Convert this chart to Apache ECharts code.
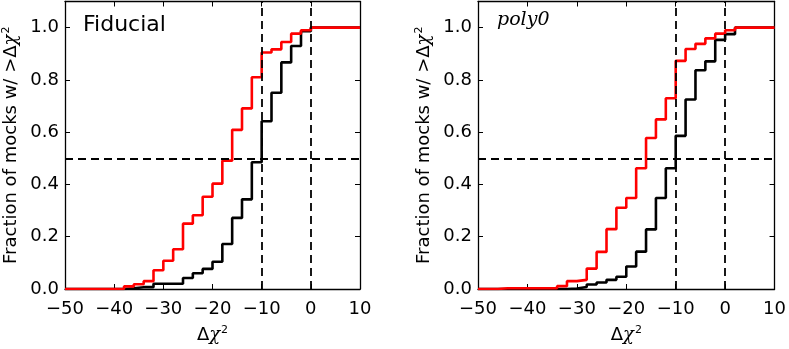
<!DOCTYPE html>
<html>
<head>
<meta charset="utf-8">
<script src="https://cdn.jsdelivr.net/npm/echarts@6/dist/echarts.min.js"></script>
<style>
  html, body { margin: 0; padding: 0; background: #fff; }
  #chart { width: 789px; height: 349px; }
</style>
</head>
<body>
<div id="chart"></div>
<script>
// bin edges of the cumulative step curves (delta chi^2)
const binEdges = [-50, -48, -46, -44, -42, -40, -38, -36, -34, -32, -30, -28, -26, -24,
  -22, -20, -18, -16, -14, -12, -10, -8, -6, -4, -2, 0, 2];

// fraction of mocks, value after each bin edge
const fiducialRed = [0, 0, 0, 0, 0, 0, 0.01, 0.018, 0.03, 0.072, 0.108, 0.152, 0.25, 0.282,
  0.353, 0.403, 0.491, 0.609, 0.691, 0.81, 0.905, 0.917, 0.945, 0.977, 0.99, 1, 1];
const fiducialBlack = [0, 0, 0, 0, 0, 0, 0.003, 0.007, 0.007, 0.02, 0.02, 0.02, 0.042, 0.06,
  0.077, 0.104, 0.172, 0.272, 0.343, 0.485, 0.642, 0.751, 0.867, 0.93, 0.986, 1, 1];
const poly0Red = [0, 0, 0.003, 0.003, 0.003, 0.003, 0.003, 0.003, 0.011, 0.03, 0.035, 0.078, 0.142, 0.229,
  0.311, 0.348, 0.462, 0.578, 0.649, 0.73, 0.873, 0.918, 0.938, 0.959, 0.977, 0.99, 1];
const poly0Black = [0, 0, 0, 0, 0, 0, 0, 0, 0, 0.002, 0.008, 0.017, 0.025, 0.035,
  0.047, 0.086, 0.143, 0.228, 0.348, 0.462, 0.586, 0.725, 0.837, 0.871, 0.953, 0.975, 1];

const panelTitles = ['Fiducial', 'poly0'];
const refX = [-10, 0];
const refY = 0.5;

const chart = echarts.init(document.getElementById('chart'));

const fontFam = 'DejaVu Sans';
const fmtX = (v) => (v < 0 ? '\u2212' + (-v) : '' + v);

const stepData = (vals) => binEdges.map((e, i) => [e, vals[i]]).concat([[10, vals[vals.length - 1]]]);

const grids = [
  { left: 63, top: 1.5, width: 297, height: 289.5 },
  { left: 478, top: 1.5, width: 297, height: 289.5 }
];

const mathRich = {
  m: { fontFamily: fontFam, fontSize: 18, color: '#000' },
  c: { fontFamily: 'DejaVu Serif', fontStyle: 'italic', fontSize: 18, color: '#000' },
  s: { fontFamily: fontFam, fontSize: 11, color: '#000', verticalAlign: 'top', padding: [0, 0, 9, 1] }
};

const xAxes = [];
const yAxes = [];
grids.forEach((g, i) => {
  xAxes.push({
    type: 'value', gridIndex: i, min: -50, max: 10, interval: 10, position: 'bottom',
    name: '{m|Δ}{c|χ}{s|2}', nameLocation: 'middle', nameGap: 36,
    nameTextStyle: { rich: mathRich },
    axisLine: { show: true, onZero: false, lineStyle: { color: '#000', width: 1.3 } },
    axisTick: { show: true, inside: true, length: 5, lineStyle: { color: '#000', width: 1 } },
    axisLabel: { fontFamily: fontFam, fontSize: 18, color: '#000', margin: 11, formatter: fmtX },
    splitLine: { show: false }
  });
  xAxes.push({
    type: 'value', gridIndex: i, min: -50, max: 10, interval: 10, position: 'top',
    axisLine: { show: true, onZero: false, lineStyle: { color: '#000', width: 1.3 } },
    axisTick: { show: true, inside: true, length: 5, lineStyle: { color: '#000', width: 1 } },
    axisLabel: { show: false },
    splitLine: { show: false }
  });
  yAxes.push({
    type: 'value', gridIndex: i, min: 0, max: 1.1, interval: 0.2, position: 'left',
    name: 'Fraction of mocks w/ {m|>Δ}{c|χ}{s|2}', nameLocation: 'middle', nameGap: 44,
    nameTextStyle: { fontFamily: fontFam, fontSize: 18, color: '#000', rich: mathRich },
    axisLine: { show: true, onZero: false, lineStyle: { color: '#000', width: 1.3 } },
    axisTick: { show: true, inside: true, length: 5, lineStyle: { color: '#000', width: 1 } },
    axisLabel: {
      fontFamily: fontFam, fontSize: 18, color: '#000', margin: 6, showMaxLabel: false,
      formatter: (v) => v.toFixed(1)
    },
    splitLine: { show: false }
  });
  yAxes.push({
    type: 'value', gridIndex: i, min: 0, max: 1.1, interval: 0.2, position: 'right',
    axisLine: { show: true, onZero: false, lineStyle: { color: '#000', width: 1.3 } },
    axisTick: { show: true, inside: true, length: 5, lineStyle: { color: '#000', width: 1 } },
    axisLabel: { show: false },
    splitLine: { show: false }
  });
});

const refLines = {
  silent: true,
  symbol: 'none',
  label: { show: false },
  lineStyle: { color: '#000', width: 1.8, type: [8, 5] },
  data: refX.map((x) => ({ xAxis: x })).concat([{ yAxis: refY }])
};

const stepSeries = (vals, idx, color, withRef) => ({
  type: 'line',
  step: 'end',
  xAxisIndex: idx * 2,
  yAxisIndex: idx * 2,
  data: stepData(vals),
  showSymbol: false,
  symbol: 'none',
  animation: false,
  lineStyle: { color: color, width: 2.6 },
  markLine: withRef ? refLines : undefined
});

const option = {
  animation: false,
  grid: grids,
  xAxis: xAxes,
  yAxis: yAxes,
  graphic: [
    {
      type: 'text', left: 83, top: 14,
      style: { text: panelTitles[0], fontFamily: fontFam, fontSize: 22, fill: '#000' }
    },
    {
      type: 'text', left: 497, top: 11,
      style: { text: panelTitles[1], fontFamily: 'DejaVu Serif', fontStyle: 'italic', fontSize: 19, fill: '#000' }
    }
  ],
  series: [
    stepSeries(fiducialBlack, 0, '#000000', true),
    stepSeries(fiducialRed, 0, '#ff0000', false),
    stepSeries(poly0Black, 1, '#000000', true),
    stepSeries(poly0Red, 1, '#ff0000', false)
  ]
};

chart.setOption(option);
</script>
</body>
</html>
